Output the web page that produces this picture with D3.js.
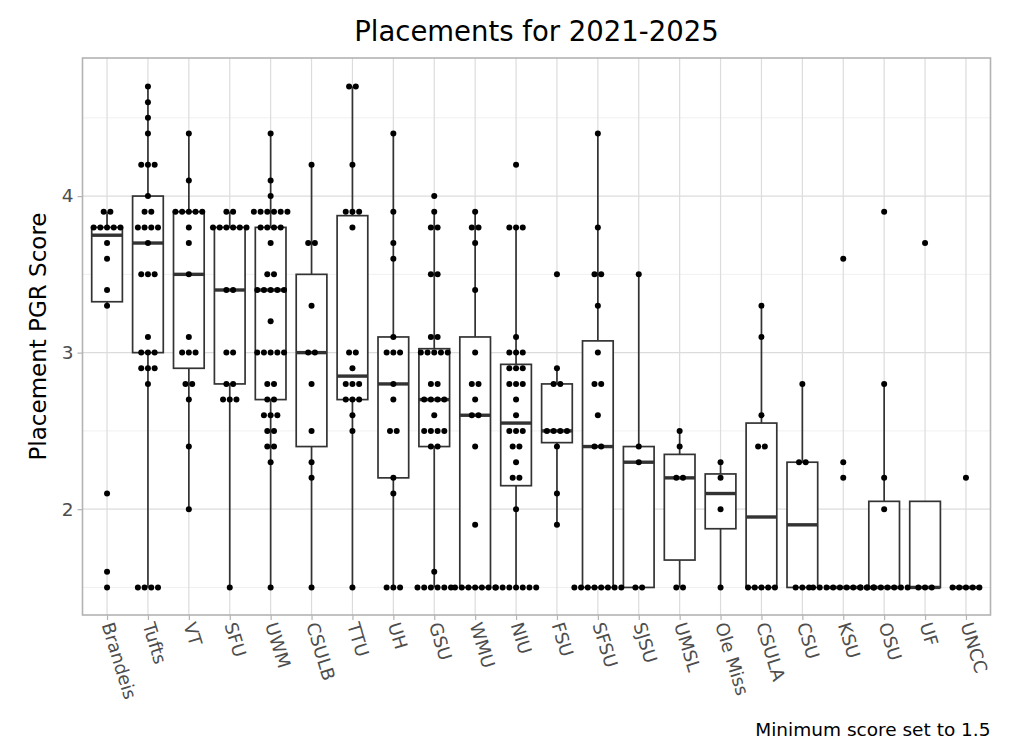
<html>
<meta charset="UTF-8">
<head>
    <title>placements</title>
    <style>
        body { margin: 0; background: #fff; }
        text { font-family: "DejaVu Sans", sans-serif; }
    </style>
</head>
<body>
<script src="https://d3js.org/d3.v7.min.js"></script>
<script>

    const categories = ["Brandeis", "Tufts", "VT", "SFU", "UWM", "CSULB", "TTU", "UH", "GSU", "WMU", "NIU",
        "FSU", "SFSU", "SJSU", "UMSL", "Ole Miss", "CSULA", "CSU", "KSU", "OSU", "UF", "UNCC"]

    // box statistics
    const whiskerLow  = [3.3, 1.5, 2.0, 1.5, 1.5, 1.5, 1.5, 1.5, 1.5, 1.5, 1.5, 1.9, 1.5, 1.5, 1.5, 1.5, 1.5, 1.5, 1.5, 1.5, 1.5, 1.5]
    const q1          = [3.325, 3.0, 2.9, 2.8, 2.7, 2.4, 2.7, 2.2, 2.4, 1.5, 2.15, 2.425, 1.5, 1.5, 1.675, 1.875, 1.5, 1.5, 1.5, 1.5, 1.5, 1.5]
    const medians     = [3.75, 3.7, 3.5, 3.4, 3.4, 3.0, 2.85, 2.8, 2.7, 2.6, 2.55, 2.5, 2.4, 2.3, 2.2, 2.1, 1.95, 1.9, 1.5, 1.5, 1.5, 1.5]
    const q3          = [3.8, 4.0, 3.9, 3.8, 3.8, 3.5, 3.875, 3.1, 3.025, 3.1, 2.925, 2.8, 3.075, 2.4, 2.35, 2.225, 2.55, 2.3, 1.5, 2.05, 2.05, 1.5]
    const whiskerHigh = [3.9, 4.7, 4.4, 3.9, 4.4, 4.2, 4.7, 4.4, 3.9, 3.9, 3.8, 2.9, 4.4, 3.5, 2.5, 2.3, 3.3, 2.8, 1.5, 2.8, 1.5, 1.5]

    // individual placements: [score, how many]
    const placements = [
        [[3.9, 2], [3.8, 5], [3.7, 1], [3.6, 1], [3.4, 1], [3.3, 1], [2.1, 1], [1.6, 1], [1.5, 1]],
        [[4.7, 1], [4.6, 1], [4.5, 1], [4.4, 1], [4.2, 3], [4.0, 1], [3.9, 2], [3.8, 4], [3.7, 1], [3.5, 3], [3.1, 1], [3.0, 3], [2.9, 3], [2.8, 1], [1.5, 4]],
        [[4.4, 1], [4.1, 1], [3.9, 5], [3.8, 1], [3.7, 1], [3.5, 1], [3.1, 1], [3.0, 3], [2.8, 2], [2.7, 1], [2.4, 1], [2.0, 1]],
        [[3.9, 2], [3.8, 6], [3.4, 2], [3.0, 2], [2.8, 2], [2.7, 3], [1.5, 1]],
        [[4.4, 1], [4.1, 1], [4.0, 1], [3.9, 6], [3.8, 4], [3.7, 1], [3.5, 2], [3.4, 5], [3.2, 1], [3.0, 5], [2.8, 2], [2.7, 2], [2.6, 3], [2.5, 2], [2.4, 2], [2.3, 1], [1.5, 1]],
        [[4.2, 1], [3.7, 2], [3.3, 1], [3.0, 2], [2.8, 1], [2.5, 1], [2.3, 1], [2.2, 1], [1.5, 1]],
        [[4.7, 2], [4.2, 1], [3.9, 3], [3.8, 1], [3.0, 2], [2.9, 1], [2.8, 3], [2.7, 3], [2.6, 1], [2.5, 1], [1.5, 1]],
        [[4.4, 1], [3.9, 1], [3.7, 1], [3.6, 1], [3.1, 1], [3.0, 3], [2.8, 1], [2.7, 1], [2.5, 2], [2.2, 1], [2.1, 1], [1.5, 3]],
        [[4.0, 1], [3.9, 1], [3.8, 2], [3.5, 2], [3.1, 2], [3.0, 5], [2.8, 2], [2.7, 4], [2.6, 1], [2.5, 4], [2.4, 2], [1.6, 1], [1.5, 6]],
        [[3.9, 1], [3.8, 2], [3.7, 1], [3.4, 1], [3.0, 1], [2.8, 2], [2.7, 1], [2.6, 2], [2.4, 1], [1.9, 1], [1.5, 7]],
        [[4.2, 1], [3.8, 3], [3.1, 1], [3.0, 3], [2.9, 3], [2.8, 3], [2.7, 1], [2.6, 1], [2.5, 3], [2.4, 2], [2.3, 1], [2.2, 2], [2.0, 1], [1.5, 7]],
        [[3.5, 1], [2.9, 1], [2.8, 2], [2.5, 4], [2.4, 1], [2.1, 1], [1.9, 1]],
        [[4.4, 1], [3.8, 1], [3.5, 2], [3.3, 1], [3.0, 1], [2.8, 2], [2.6, 1], [2.4, 2], [1.5, 8]],
        [[3.5, 1], [2.4, 1], [2.3, 1], [1.5, 2]],
        [[2.5, 1], [2.4, 1], [2.2, 2], [1.5, 2]],
        [[2.3, 1], [2.2, 1], [2.0, 1], [1.5, 1]],
        [[3.3, 1], [3.1, 1], [2.6, 1], [2.4, 2], [1.5, 5]],
        [[2.8, 1], [2.3, 2], [1.5, 3]],
        [[3.6, 1], [2.3, 1], [2.2, 1], [1.5, 10]],
        [[3.9, 1], [2.8, 1], [2.2, 1], [2.0, 1], [1.5, 8]],
        [[3.7, 1], [1.5, 3]],
        [[2.2, 1], [1.5, 5]]
    ]

    const majorTicks = [2, 3, 4]
    const minorTicks = [1.5, 2.5, 3.5, 4.5]

    let width = 1024, height = 753
    let panel = {left: 82.5, right: 990.5, top: 58, bottom: 615}

    let canvas = d3.select("body")
        .append("svg")
        .attr("width", width)
        .attr("height", height)

    let x = d3.scalePoint()
        .domain(categories)
        .range([panel.left, panel.right])
        .padding(0.6)

    let y = d3.scaleLinear()
        .domain([1.324, 4.882])
        .range([panel.bottom, panel.top])

    let step = x.step()
    let boxWidth = step * 0.75
    let dotGap = step * 0.164
    let dotR = 3

    // grid
    let grid = canvas.append("g")
    grid.selectAll(".minor")
        .data(minorTicks).enter()
        .append("line")
        .attr("x1", panel.left).attr("x2", panel.right)
        .attr("y1", d => y(d)).attr("y2", d => y(d))
        .attr("stroke", "#ececec").attr("stroke-width", 0.8)
    grid.selectAll(".major")
        .data(majorTicks).enter()
        .append("line")
        .attr("x1", panel.left).attr("x2", panel.right)
        .attr("y1", d => y(d)).attr("y2", d => y(d))
        .attr("stroke", "#dcdcdc").attr("stroke-width", 1.2)
    grid.selectAll(".vert")
        .data(categories).enter()
        .append("line")
        .attr("x1", d => x(d)).attr("x2", d => x(d))
        .attr("y1", panel.top).attr("y2", panel.bottom)
        .attr("stroke", "#dcdcdc").attr("stroke-width", 1.2)

    // boxes
    let boxData = categories.map((c, i) => ({
        cat: c, lo: whiskerLow[i], q1: q1[i], med: medians[i], q3: q3[i], hi: whiskerHigh[i]
    }))

    let boxes = canvas.append("g")
        .selectAll("g")
        .data(boxData).enter()
        .append("g")
        .attr("transform", d => "translate(" + x(d.cat) + ",0)")

    boxes.append("line")
        .attr("y1", d => y(d.q3)).attr("y2", d => y(d.hi))
        .attr("stroke", "#333").attr("stroke-width", 1.7)
    boxes.append("line")
        .attr("y1", d => y(d.q1)).attr("y2", d => y(d.lo))
        .attr("stroke", "#333").attr("stroke-width", 1.7)
    boxes.append("rect")
        .attr("x", -boxWidth / 2)
        .attr("width", boxWidth)
        .attr("y", d => y(d.q3))
        .attr("height", d => y(d.q1) - y(d.q3))
        .attr("fill", "#fff")
        .attr("stroke", "#333").attr("stroke-width", 1.7)
    boxes.append("line")
        .attr("x1", -boxWidth / 2).attr("x2", boxWidth / 2)
        .attr("y1", d => y(d.med)).attr("y2", d => y(d.med))
        .attr("stroke", "#333").attr("stroke-width", 3.4)

    // dots, stacked sideways around the category centre
    let dots = []
    placements.forEach((rows, i) => {
        rows.forEach(([v, n]) => {
            for (let k = 0; k < n; k++) {
                dots.push({cat: categories[i], v: v, off: k - (n - 1) / 2})
            }
        })
    })

    canvas.append("g")
        .selectAll("circle")
        .data(dots).enter()
        .append("circle")
        .attr("cx", d => x(d.cat) + d.off * dotGap)
        .attr("cy", d => y(d.v))
        .attr("r", dotR)
        .attr("fill", "#000")

    // panel border
    canvas.append("rect")
        .attr("x", panel.left).attr("y", panel.top)
        .attr("width", panel.right - panel.left)
        .attr("height", panel.bottom - panel.top)
        .attr("fill", "none")
        .attr("stroke", "#b3b3b3").attr("stroke-width", 1.6)

    // axes
    let yAxis = canvas.append("g")
        .attr("transform", "translate(" + panel.left + ",0)")
        .call(d3.axisLeft(y).tickValues(majorTicks).tickSize(5).tickPadding(4).tickFormat(d3.format("d")))
    yAxis.select(".domain").remove()
    yAxis.selectAll(".tick line").attr("stroke", "#b3b3b3").attr("stroke-width", 1.2)
    yAxis.selectAll(".tick text")
        .attr("fill", "#4d4d4d")
        .style("font-size", "18.5px")
        .style("font-family", "DejaVu Sans")

    let xAxis = canvas.append("g")
        .attr("transform", "translate(0," + panel.bottom + ")")
        .call(d3.axisBottom(x).tickSize(5).tickPadding(4))
    xAxis.select(".domain").remove()
    xAxis.selectAll(".tick line").attr("stroke", "#b3b3b3").attr("stroke-width", 1.2)
    xAxis.selectAll(".tick text")
        .attr("fill", "#4d4d4d")
        .style("font-size", "18px")
        .style("font-family", "DejaVu Sans")
        .attr("text-anchor", "start")
        .attr("x", 0).attr("y", 0)
        .attr("dy", "0.35em")
        .attr("transform", "translate(0,8) rotate(73)")

    // titles
    canvas.append("text")
        .attr("x", (panel.left + panel.right) / 2)
        .attr("y", 41)
        .attr("text-anchor", "middle")
        .style("font-size", "27.5px")
        .attr("fill", "#000")
        .text("Placements for 2021-2025")

    canvas.append("text")
        .attr("transform", "translate(46," + (panel.top + panel.bottom) / 2 + ") rotate(-90)")
        .attr("text-anchor", "middle")
        .style("font-size", "23px")
        .attr("fill", "#000")
        .text("Placement PGR Score")

    canvas.append("text")
        .attr("x", panel.right)
        .attr("y", 736)
        .attr("text-anchor", "end")
        .style("font-size", "18.5px")
        .attr("fill", "#000")
        .text("Minimum score set to 1.5")

</script>
</body>
</html>
